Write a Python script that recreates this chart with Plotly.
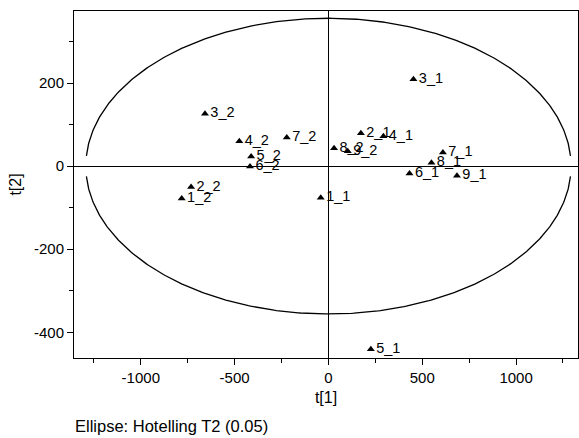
import numpy as np
import plotly.graph_objects as go

# Score values
labels = ["1_1", "2_1", "3_1", "4_1", "5_1", "6_1", "7_1", "8_1", "9_1",
          "1_2", "2_2", "3_2", "4_2", "5_2", "6_2", "7_2", "8_2", "9_2"]
t1 = [-41, 173, 453, 293, 226, 432, 610, 549, 685,
      -782, -732, -658, -475, -412, -418, -222, 30, 103]
t2 = [-76, 79, 209, 72, -441, -18, 33, 8, -23,
      -78, -50, 126, 60, 23, -1, 69, 43, 36]

# Hotelling T2 ellipse semi-axes
ell_a = 1293
ell_b = 356

x_ticks = [-1000, -500, 0, 500, 1000]
y_ticks = [-400, -200, 0, 200]

font_family = "Liberation Sans, Arial, sans-serif"

fig = go.Figure()

# ellipse drawn as two arcs (gap near the horizontal axis)
gap = np.deg2rad(4)
for start, end in [(gap, np.pi - gap), (np.pi + gap, 2 * np.pi - gap)]:
    th = np.linspace(start, end, 300)
    fig.add_trace(go.Scatter(
        x=ell_a * np.cos(th), y=ell_b * np.sin(th), mode="lines",
        line=dict(color="black", width=1.3), hoverinfo="skip", showlegend=False))

fig.add_trace(go.Scatter(
    x=t1, y=t2, mode="markers+text", text=labels, textposition="middle right",
    marker=dict(symbol="triangle-up", size=7, color="black"),
    textfont=dict(family=font_family, size=14.5, color="black"),
    showlegend=False))

axis_common = dict(
    showgrid=False, showline=True, linecolor="black", linewidth=1, mirror=True,
    ticks="outside", ticklen=6, tickcolor="black", tickwidth=1,
    zeroline=True, zerolinecolor="black", zerolinewidth=1,
    tickfont=dict(family=font_family, size=15, color="black"),
)

fig.update_layout(
    width=579, height=438,
    margin=dict(l=74, r=1, t=11, b=80),
    paper_bgcolor="white", plot_bgcolor="white",
    xaxis=dict(range=[-1356, 1330], tickvals=x_ticks,
               ticktext=[str(v) for v in x_ticks],
               title=dict(text="t[1]", font=dict(family=font_family, size=16, color="black"), standoff=6),
               minor=dict(ticks="outside", ticklen=4, tickcolor="black", dtick=250, tick0=0, showgrid=False),
               **axis_common),
    yaxis=dict(range=[-462, 373.5], tickvals=y_ticks,
               ticktext=[str(v) for v in y_ticks],
               title=dict(text="t[2]", font=dict(family=font_family, size=16, color="black"), standoff=8),
               minor=dict(ticks="outside", ticklen=4, tickcolor="black", dtick=100, tick0=0, showgrid=False),
               **axis_common),
    annotations=[dict(text="Ellipse: Hotelling T2 (0.05)", xref="paper", yref="paper",
                      x=0, y=-0.197, yanchor="middle", xanchor="left", showarrow=False,
                      borderpad=0,
                      font=dict(family=font_family, size=16.5, color="black"))],
)

fig.write_html("out.html")
